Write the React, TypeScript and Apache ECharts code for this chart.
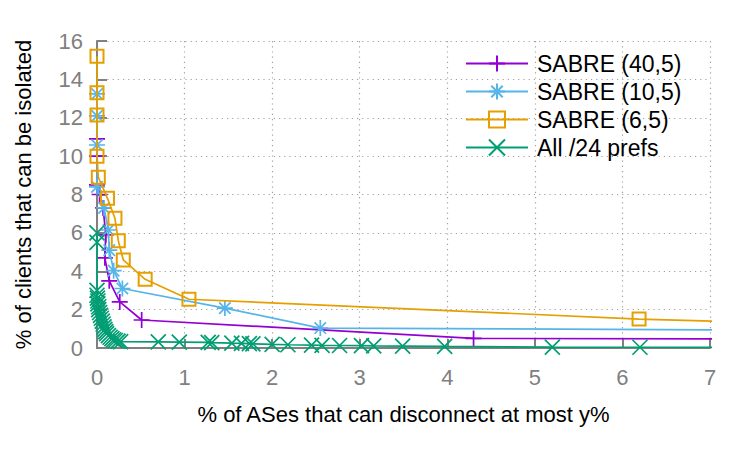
import React, { useEffect, useRef } from "react";
import * as echarts from "echarts";

// ---- data ----
const seriesNames = ["SABRE (40,5)", "SABRE (10,5)", "SABRE (6,5)", "All /24 prefs"];

const sabre40X = [0, 0, 0, 0.03, 0.07, 0.1, 0.09, 0.14, 0.26, 0.51, 4.3, 8];
const sabre40Y = [10.9, 10.0, 8.5, 8.0, 7.3, 5.9, 4.7, 3.5, 2.4, 1.46, 0.5, 0.46];

const sabre10X = [0, 0, 0, 0, 0.08, 0.13, 0.14, 0.19, 0.29, 1.46, 2.55, 8];
const sabre10Y = [13.24, 12.1, 10.58, 8.4, 7.3, 6.15, 5.1, 4.03, 3.1, 2.08, 1.04, 0.92];

const sabre6X = [0, 0, 0, 0, 0.015, 0.12, 0.205, 0.243, 0.3, 0.55, 1.05, 6.19, 8];
const sabre6Y = [15.2, 13.3, 12.14, 10.0, 8.9, 7.8, 6.76, 5.59, 4.59, 3.58, 2.54, 1.51, 1.27];

const allX = [
  0, 0, 0, 0, 0.005, 0.01, 0.01, 0.02, 0.02, 0.03, 0.04, 0.05, 0.06, 0.07, 0.08, 0.09,
  0.1, 0.11, 0.13, 0.15, 0.17, 0.19, 0.21, 0.24, 0.27,
  0.7, 0.94, 1.27, 1.31, 1.54, 1.65, 1.74, 1.78, 2.0, 2.18, 2.45, 2.57, 2.77, 3.02, 3.16,
  3.49, 3.97, 5.2, 6.2, 8,
];
const allY = [
  6.0, 5.5, 3.0, 2.75, 2.6, 2.45, 2.3, 2.15, 2.0, 1.85, 1.7, 1.55, 1.4, 1.25, 1.1, 0.97,
  0.85, 0.75, 0.65, 0.56, 0.49, 0.43, 0.39, 0.36, 0.33,
  0.32, 0.31, 0.29, 0.28, 0.25, 0.24, 0.23, 0.22, 0.19, 0.17, 0.15, 0.14, 0.13, 0.12, 0.11,
  0.1, 0.08, 0.05, 0.04, 0.03,
];

const xTicks = [0, 1, 2, 3, 4, 5, 6, 7];
const yTicks = [0, 2, 4, 6, 8, 10, 12, 14, 16];

const colors = ["#9400d3", "#56b4e9", "#e69f00", "#009e73"];
const symbols = [
  "path://M0,8 L16,8 M8,0 L8,16",
  "path://M0,8 L16,8 M8,0 L8,16 M2.3,2.3 L13.7,13.7 M13.7,2.3 L2.3,13.7",
  "path://M0,0 L12,0 L12,12 L0,12 Z",
  "path://M0,0 L14,14 M14,0 L0,14",
];
const symbolSizes = [16, 16, 13, 15];

const zip = (xs: number[], ys: number[]) => xs.map((x, i) => [x, ys[i]]);

export default function App() {
  const ref = useRef<HTMLDivElement>(null);

  useEffect(() => {
    if (!ref.current) return;
    const chart = echarts.init(ref.current, null, { renderer: "svg" });
    const font = "'Liberation Sans', Arial, sans-serif";
    const datasets = [
      zip(sabre40X, sabre40Y),
      zip(sabre10X, sabre10Y),
      zip(sabre6X, sabre6Y),
      zip(allX, allY),
    ];
    chart.setOption({
      animation: false,
      backgroundColor: "#ffffff",
      textStyle: { fontFamily: font },
      grid: { left: 97, right: 37, top: 41, bottom: 101, containLabel: false },
      legend: {
        orient: "vertical",
        left: 460,
        top: 47,
        itemWidth: 62,
        itemHeight: 20,
        itemGap: 5,
        data: seriesNames,
        textStyle: { fontSize: 23, lineHeight: 20, color: "#000", fontFamily: font, padding: [0, 0, 0, 4] },
      },
      xAxis: {
        type: "value",
        min: xTicks[0],
        max: xTicks[xTicks.length - 1],
        interval: 1,
        name: "% of ASes that can disconnect at most y%",
        nameLocation: "middle",
        nameGap: 55,
        nameTextStyle: { fontSize: 22, color: "#000", fontFamily: font },
        axisLine: { show: true, onZero: false, lineStyle: { color: "#808080", width: 2 } },
        axisTick: { show: true, inside: true, length: 9, lineStyle: { color: "#808080", width: 2 } },
        axisLabel: { fontSize: 22, color: "#808080", margin: 18, showMinLabel: true, showMaxLabel: true, fontFamily: font },
        splitLine: { show: true, lineStyle: { color: "#a0a0a0", width: 1.2, type: [1.2, 4] } },
      },
      yAxis: {
        type: "value",
        min: yTicks[0],
        max: yTicks[yTicks.length - 1],
        interval: 2,
        name: "% of clients that can be isolated",
        nameLocation: "middle",
        nameGap: 63,
        nameTextStyle: { fontSize: 22, color: "#000", fontFamily: font },
        axisLine: { show: true, onZero: false, lineStyle: { color: "#808080", width: 2 } },
        axisTick: { show: true, inside: true, length: 10, lineStyle: { color: "#808080", width: 2 } },
        axisLabel: { fontSize: 22, color: "#808080", margin: 14, showMinLabel: true, showMaxLabel: true, fontFamily: font },
        splitLine: { show: true, lineStyle: { color: "#a0a0a0", width: 1.2, type: [1.2, 4] } },
      },
      series: datasets.map((d, i) => ({
        name: seriesNames[i],
        type: "line",
        data: d,
        clip: true,
        symbol: symbols[i],
        symbolSize: symbolSizes[i],
        showAllSymbol: true,
        lineStyle: { color: colors[i], width: 1.7 },
        itemStyle: { color: "rgba(0,0,0,0)", borderColor: colors[i], borderWidth: i === 2 ? 2 : 1.7 },
        emphasis: { disabled: true },
        z: 2 + i,
      })),
    });
    return () => chart.dispose();
  }, []);

  return (
    <div
      ref={ref}
      style={{ position: "fixed", left: 0, top: 0, width: 747, height: 449, background: "#fff" }}
    />
  );
}
